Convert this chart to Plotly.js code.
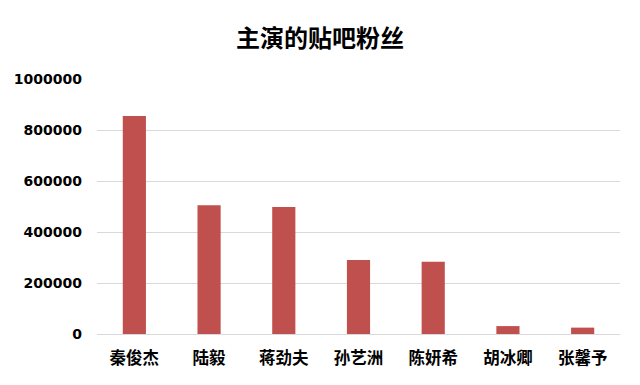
<!DOCTYPE html>
<html>
<head>
<meta charset="utf-8">
<script src="https://cdn.plot.ly/plotly-3.0.1.min.js"></script>
<style>html,body{margin:0;padding:0;background:#fff;}#chart{width:640px;height:385px;}</style>
</head>
<body>
<div id="chart"></div>
<script>
const categories = ["秦俊杰", "陆毅", "蒋劲夫", "孙艺洲", "陈妍希", "胡冰卿", "张馨予"];
const fans = [855000, 505000, 498000, 290000, 283000, 31000, 25000];
const yTicks = [0, 200000, 400000, 600000, 800000, 1000000];
const titleText = "主演的贴吧粉丝";

const font = "'Noto Sans CJK SC', 'Noto Sans', sans-serif";
Plotly.newPlot("chart", [{
  type: "bar",
  x: categories,
  y: fans,
  marker: {color: "#C0504D"},
  hoverinfo: "x+y"
}], {
  width: 640, height: 385,
  margin: {l: 97, r: 20, t: 79, b: 51},
  paper_bgcolor: "#fff", plot_bgcolor: "#fff",
  bargap: 0.69,
  showlegend: false,
  title: {text: "<b>" + titleText + "</b>", x: 0.5, xanchor: "center", y: 0.9, yanchor: "middle",
          font: {family: font, size: 24, color: "#000"}},
  xaxis: {
    showgrid: false, zeroline: false, showline: false, ticks: "",
    ticklabelstandoff: 12,
    tickfont: {family: font, size: 16.5, color: "#000", weight: "bold"}
  },
  yaxis: {
    range: [0, 1000000], tickvals: yTicks, ticktext: yTicks.map(String),
    showgrid: true, gridcolor: "#d9d9d9", gridwidth: 1,
    zeroline: true, zerolinecolor: "#d9d9d9", zerolinewidth: 1,
    showline: false, ticks: "", ticklabelstandoff: 14,
    tickfont: {family: "'DejaVu Sans', sans-serif", size: 14, color: "#000", weight: "bold"}
  }
}, {displayModeBar: false, staticPlot: true});
</script>
</body>
</html>
